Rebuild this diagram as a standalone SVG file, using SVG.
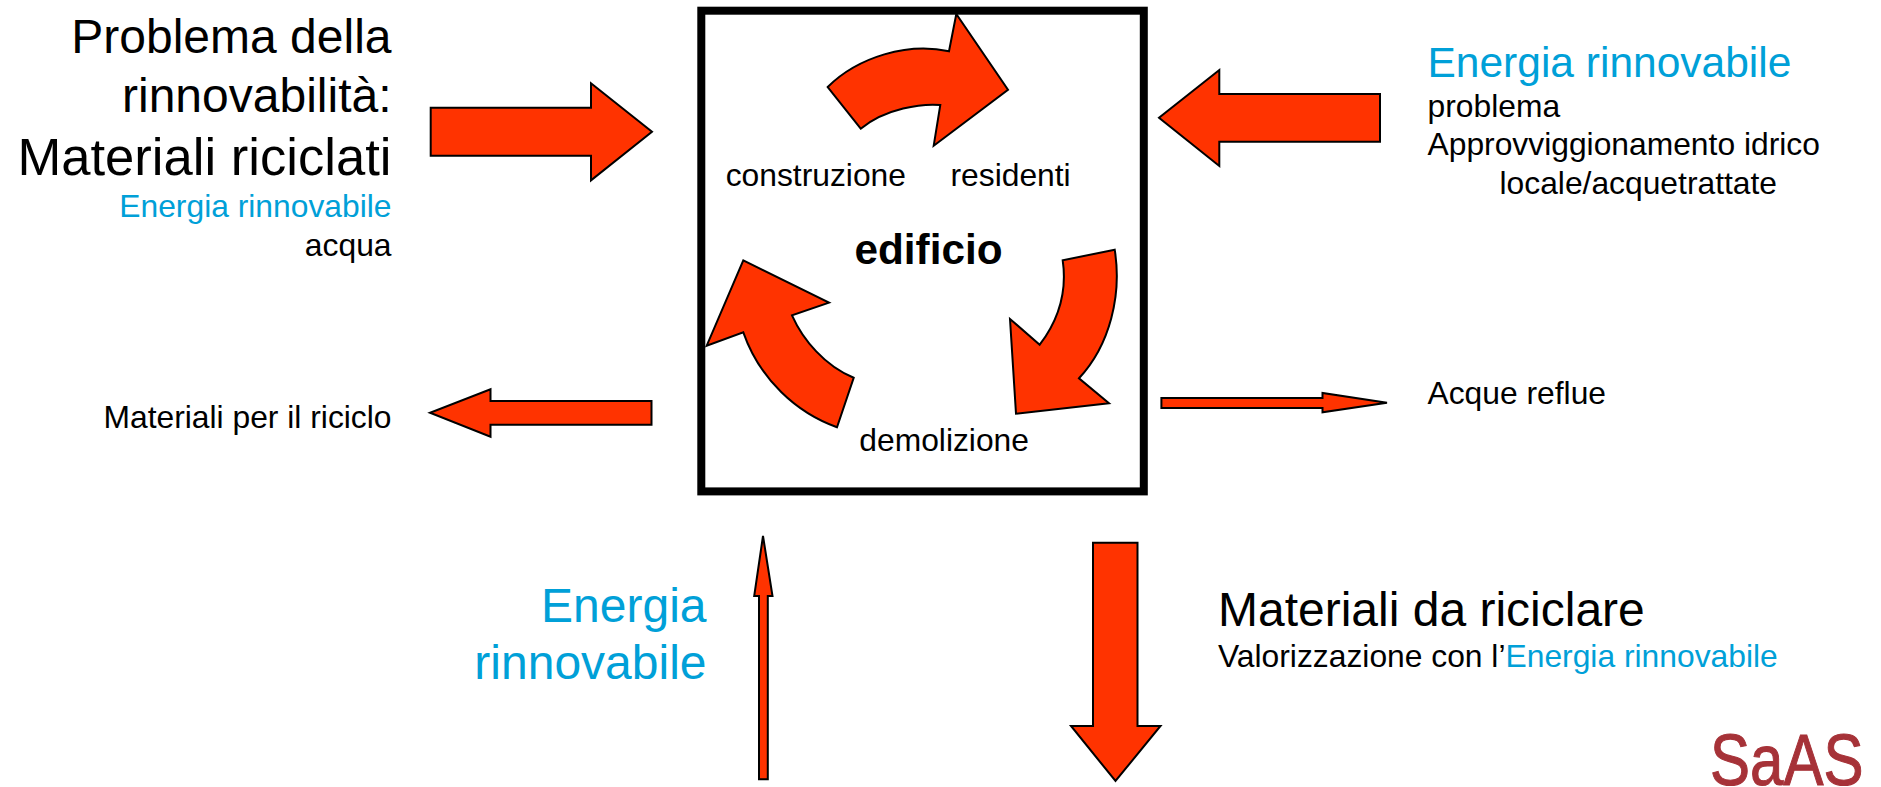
<svg xmlns="http://www.w3.org/2000/svg" width="1881" height="787" viewBox="0 0 1881 787">
<style>
text{font-family:"Liberation Sans",Arial,sans-serif;fill:#000}
.a{fill:#ff3300;stroke:#000;stroke-width:2;stroke-linejoin:miter}
.e{text-anchor:end}
.s{font-size:31.8px}
.l{font-size:48px}
.b,.b tspan{fill:#00a0d8}
</style>
<rect width="1881" height="787" fill="#fff"/>
<g id="edificio">
<rect x="701.3" y="10.7" width="442.5" height="480.7" fill="#fff" stroke="#000" stroke-width="8"/>
<text x="854.5" y="264.3" font-size="42.3" font-weight="700">edificio</text>
<text class="s" x="725.7" y="185.7">construzione</text>
<text class="s" x="950.5" y="185.7">residenti</text>
<text class="s" x="859.3" y="451">demolizione</text>
</g>
<g id="ciclo">
<path class="a" d="M827.7 87C858 57 908 42 949 51.3L956.3 14L1008 89.7L933.7 145.7L940.3 105C922 103.5 886 108 860.7 128.7Z"/>
<path class="a" d="M1114.7 249.7L1062.7 260.3C1067 290 1060 318 1039.7 344.7L1010 319L1016 413.7L1109 403.3L1079 378.3C1110 345 1122 295 1114.7 249.7Z"/>
<path class="a" d="M743.3 260.3L829 302.7L792 315.3C803 340 825 366 853.7 377.7L837 427.3C797 413 760 380 743.3 332.3L706.7 345.7Z"/>
</g>
<g id="connectors">
<path class="a" d="M430.7 107.7H591V83.3L652 131.7L591 180.3V155.7H430.7Z"/>
<path class="a" d="M651.5 401H490.5V389.3L430 412.7L490.5 436.7V424.7H651.5Z"/>
<path class="a" d="M1380 94H1219.3V70L1159 117.7L1219.3 166V141.7H1380Z"/>
<path class="a" d="M1161.4 398H1322.5V393L1387 402.7L1322.5 412.3V408H1161.4Z"/>
<path class="a" d="M759 779.3V596H754.2L763 536L772.5 596H767.8V779.3Z"/>
<path class="a" d="M1093 542.7H1137.5V726H1160.5L1115.5 781L1071 726H1093Z"/>
</g>
<g id="problema-rinnovabilita">
<text class="l e" x="391.5" y="53.3">Problema della</text>
<text class="l e" x="391.5" y="111.7">rinnovabilità:</text>
<text class="e" font-size="52.6" x="391.5" y="175">Materiali riciclati</text>
<text class="s e b" x="391.5" y="216.7">Energia rinnovabile</text>
<text class="s e" x="391.5" y="255.7">acqua</text>
</g>
<g id="materiali-riciclo">
<text class="s e" x="391.5" y="427.7">Materiali per il riciclo</text>
</g>
<g id="energia-rinnovabile-destra">
<text class="b" font-size="42.5" x="1427.5" y="76.7">Energia rinnovabile</text>
<text class="s" x="1427.5" y="116.7">problema</text>
<text class="s" x="1427.5" y="155">Approvviggionamento idrico</text>
<text class="s" x="1499.5" y="194">locale/acquetrattate</text>
</g>
<g id="acque-reflue">
<text class="s" x="1427.5" y="404.3">Acque reflue</text>
</g>
<g id="energia-rinnovabile-basso">
<text class="l e b" x="706.5" y="621.5">Energia</text>
<text class="l e b" x="706.5" y="679.3">rinnovabile</text>
</g>
<g id="materiali-da-riciclare">
<text class="l" x="1218" y="626">Materiali da riciclare</text>
<text class="s" x="1218" y="666.7">Valorizzazione con l’<tspan class="b">Energia rinnovabile</tspan></text>
</g>
<g id="saas">
<text font-size="60" transform="translate(1710,784.5) scale(1,1.2)" style="fill:#a63238;stroke:#a63238;stroke-width:.9">SaAS</text>
</g>
</svg>
